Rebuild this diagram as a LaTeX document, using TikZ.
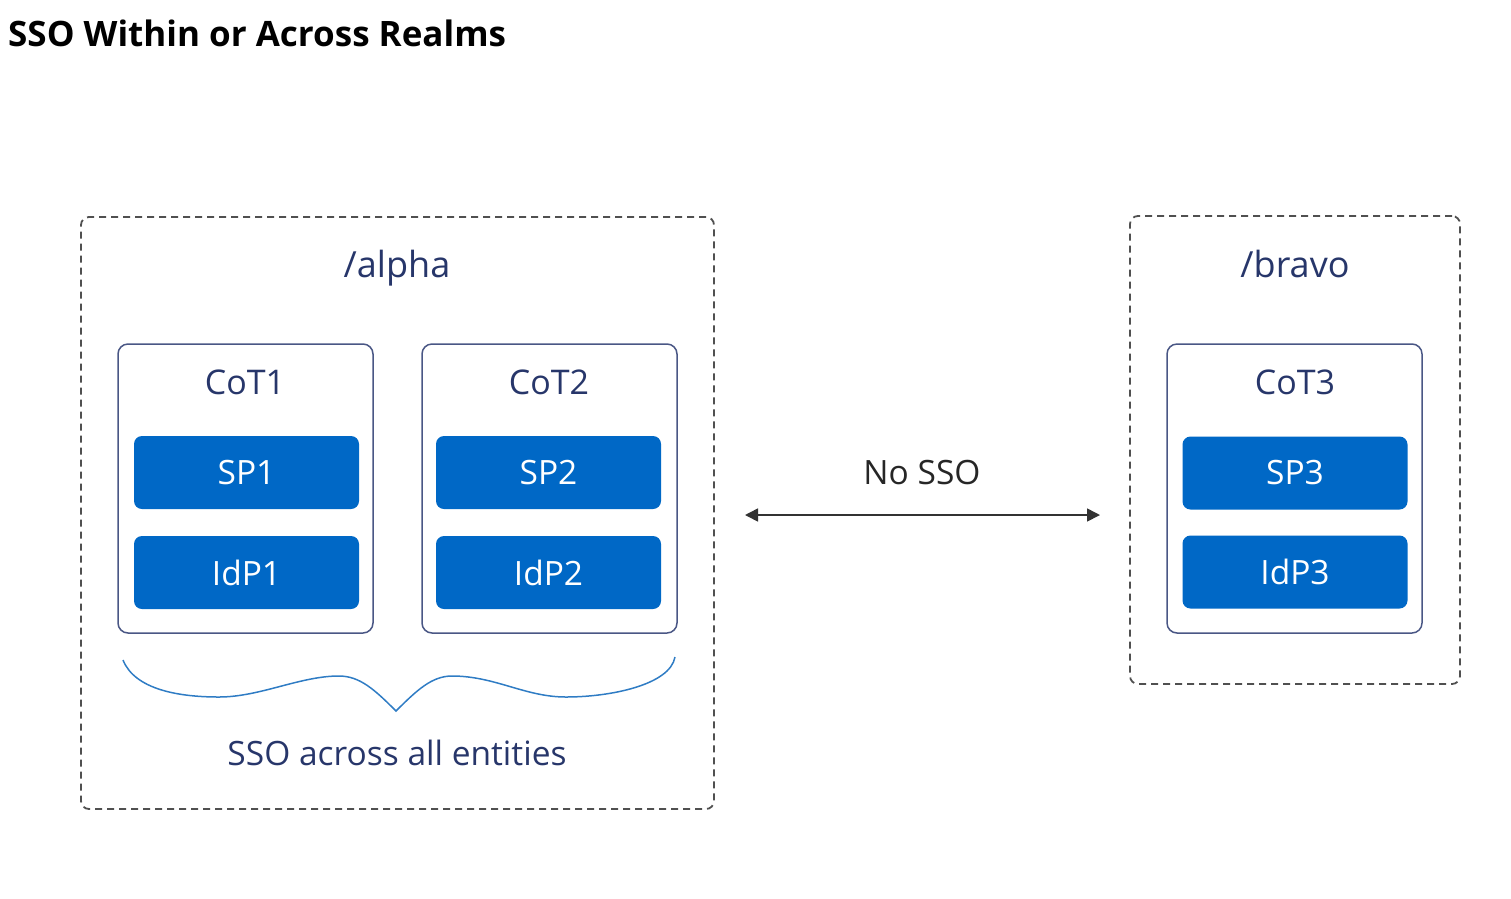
\documentclass[tikz,border=0pt]{standalone}
\usepackage{fontspec}
\setmainfont{Open Sans}
\usetikzlibrary{arrows.meta}
\definecolor{navy}{HTML}{27366A}
\definecolor{slate}{HTML}{4A5785}
\definecolor{bluefill}{HTML}{0068C6}
\definecolor{dashgray}{HTML}{505050}
\definecolor{bracecol}{HTML}{2F7CC4}
\tikzset{
  realm/.style={draw=dashgray, line width=1.8pt, dash pattern=on 7pt off 5pt, rounded corners=8pt},
  cotbox/.style={draw=slate, line width=1.5pt, rounded corners=10pt, fill=white},
  entity/.style={fill=bluefill, rounded corners=8pt, minimum width=225pt, minimum height=73pt, text=white, font=\fontsize{33.5}{40}\selectfont, inner sep=0pt},
  hdr/.style={text=navy, font=\fontsize{36}{43}\selectfont, inner sep=0pt, anchor=base},
  cothdr/.style={text=navy, font=\fontsize{34}{41}\selectfont, inner sep=0pt, anchor=base},
  lbl/.style={text=navy, font=\fontsize{33.5}{40}\selectfont, inner sep=0pt, anchor=base},
}
\begin{document}
\begin{tikzpicture}[x=1pt,y=-1pt]
\useasboundingbox (0,0) rectangle (1511,898);
\node[anchor=base west, inner sep=0pt, font=\fontsize{35}{42}\selectfont\bfseries] (title) at (8,46) {SSO Within or Across Realms};

% realms
\node[realm, minimum width=633pt, minimum height=592pt, inner sep=0pt] (alpha) at (397.5,513) {};
\node[realm, minimum width=330pt, minimum height=468pt, inner sep=0pt] (bravo) at (1295,450) {};
\node[hdr] (alphalbl) at (397,277) {/alpha};
\node[hdr] (bravolbl) at (1295,277) {/bravo};

% CoT boxes
\node[cotbox, minimum width=255pt, minimum height=289pt, inner sep=0pt] (cot1) at (245.5,488.5) {};
\node[cotbox, minimum width=255pt, minimum height=289pt, inner sep=0pt] (cot2) at (549.5,488.5) {};
\node[cotbox, minimum width=255pt, minimum height=289pt, inner sep=0pt] (cot3) at (1294.5,488.5) {};
\node[cothdr] (cot1lbl) at (245,394) {CoT1};
\node[cothdr] (cot2lbl) at (549,394) {CoT2};
\node[cothdr] (cot3lbl) at (1295,394) {CoT3};

% entities
\node[entity] (sp1) at (246.5,472.5) {SP1};
\node[entity] (idp1) at (246.5,572.5) {IdP1};
\node[entity] (sp2) at (548.5,472.5) {SP2};
\node[entity] (idp2) at (548.5,572.5) {IdP2};
\node[entity] (sp3) at (1295,473) {SP3};
\node[entity] (idp3) at (1295,572) {IdP3};

% No SSO arrow
\coordinate (arrL) at (745,515);
\coordinate (arrR) at (1100,515);
\draw[draw=black!80, line width=1.6pt, {Triangle[length=13pt,width=13pt]}-{Triangle[length=13pt,width=13pt]}] (arrL) -- (arrR);
\node[lbl, text=black!85] (nosso) at (922,484) {No SSO};

% brace
\coordinate (bL) at (123,660);
\coordinate (bLlow) at (219,697);
\coordinate (bLpk) at (339,676);
\coordinate (bTip) at (396,711);
\coordinate (bRpk) at (452,676);
\coordinate (bRlow) at (566,697);
\coordinate (bR) at (675,657);
\draw[draw=bracecol, line width=1.5pt]
  (bL) .. controls (135,690) and (180,697) .. (bLlow)
  .. controls (260,697) and (300,676) .. (bLpk)
  .. controls (360,676) and (375,690) .. (bTip)
  .. controls (417,690) and (432,676) .. (bRpk)
  .. controls (495,676) and (525,697) .. (bRlow)
  .. controls (610,697) and (670,685) .. (bR);
\node[lbl] (ssoall) at (397,765) {SSO across all entities};
\end{tikzpicture}
\end{document}
